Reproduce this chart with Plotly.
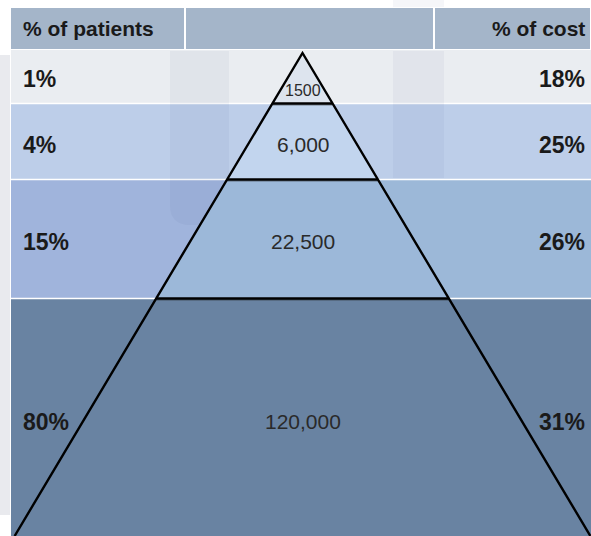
import plotly.graph_objects as go

# ---- data -------------------------------------------------------------
patients_pct = ["1%", "4%", "15%", "80%"]
cost_pct = ["18%", "25%", "26%", "31%"]
patient_counts = ["1500", "6,000", "22,500", "120,000"]
header_left = "% of patients"
header_right = "% of cost"

# ---- layout constants (pixel-like canvas units) -----------------------
W, H = 591, 536
LEFT = 11
HEADER_Y = (8, 49)
ROW_EDGES = [50, 103.5, 179.5, 298.5, 536]
HEADER_SPLITS = [185, 434]
APEX_X, APEX_Y = 302.5, 53
SLOPE = 0.596  # half-width growth per unit of height

row_left = ["#eaedf1", "#bdcee9", "#a0b4dc", "#6983a2"]
row_right = ["#eaedf1", "#bdcee9", "#9cb8d8", "#6983a2"]
tier_fill = ["#dde4ee", "#c2d5ee", "#9cb8d9", "#6983a2"]
header_color = "#a4b5c9"
FONT = "Liberation Sans, Arial, sans-serif"


def half_width(y):
    return max(0.0, (y - APEX_Y) * SLOPE)


fig = go.Figure()
shapes = []

# left grey strip
shapes.append(dict(type="rect", x0=0, x1=LEFT - 1, y0=55, y1=515,
                   fillcolor="#e9eaee", line_width=0, layer="below"))

# header cells
hx = [LEFT] + HEADER_SPLITS + [W]
for i in range(3):
    shapes.append(dict(type="rect", x0=hx[i] + (1 if i else 0), x1=hx[i + 1] - 1,
                       y0=HEADER_Y[0], y1=HEADER_Y[1],
                       fillcolor=header_color, line_width=0, layer="below"))

# row backgrounds
for i in range(4):
    y0 = ROW_EDGES[i] + (0.8 if i else 0)
    y1 = ROW_EDGES[i + 1] - (0.8 if i < 3 else 0)
    shapes.append(dict(type="rect", x0=LEFT, x1=APEX_X, y0=y0, y1=y1,
                       fillcolor=row_left[i], line_width=0, layer="below"))
    shapes.append(dict(type="rect", x0=APEX_X, x1=W, y0=y0, y1=y1,
                       fillcolor=row_right[i], line_width=0, layer="below"))

# faint background bands
shapes.append(dict(type="path",
                   path="M 170 51 L 229 51 L 229 225 L 190 225 Q 170 225 170 205 Z",
                   fillcolor="rgba(60,80,140,0.06)", line_width=0, layer="below"))
shapes.append(dict(type="rect", x0=393, x1=444, y0=51, y1=178,
                   fillcolor="rgba(60,80,140,0.05)", line_width=0, layer="below"))
shapes.append(dict(type="rect", x0=393, x1=444, y0=0, y1=7,
                   fillcolor="rgba(60,80,140,0.05)", line_width=0, layer="below"))

fig.update_layout(shapes=shapes)

# pyramid tiers
tops = [APEX_Y] + ROW_EDGES[1:4]
bottoms = ROW_EDGES[1:5]
for i in range(4):
    yt, yb = tops[i], bottoms[i]
    wt, wb = half_width(yt), half_width(yb)
    xs = [APEX_X - wt, APEX_X + wt, APEX_X + wb, APEX_X - wb, APEX_X - wt]
    ys = [yt, yt, yb, yb, yt]
    fig.add_trace(go.Scatter(x=xs, y=ys, mode="lines", fill="toself",
                             fillcolor=tier_fill[i], line=dict(width=0),
                             hoverinfo="skip", showlegend=False))

# pyramid sides
wb = half_width(H)
fig.add_trace(go.Scatter(x=[APEX_X - wb, APEX_X, APEX_X + wb], y=[H, APEX_Y, H],
                         mode="lines", line=dict(color="black", width=2.4),
                         hoverinfo="skip", showlegend=False))
# tier dividers
for y in ROW_EDGES[1:4]:
    w = half_width(y)
    fig.add_trace(go.Scatter(x=[APEX_X - w, APEX_X + w], y=[y + 1.2, y + 1.2],
                             mode="lines", line=dict(color="rgba(40,40,40,0.35)", width=2),
                             hoverinfo="skip", showlegend=False))
    fig.add_trace(go.Scatter(x=[APEX_X - w, APEX_X + w], y=[y, y],
                             mode="lines", line=dict(color="black", width=2.6),
                             hoverinfo="skip", showlegend=False))

# text
ann = []
hy = (HEADER_Y[0] + HEADER_Y[1]) / 2
ann.append(dict(x=21, y=hy, text=f"<b>{header_left}</b>", xanchor="left",
                font=dict(size=21, color="#1a1a1a", family=FONT)))
ann.append(dict(x=587, y=hy, text=f"<b>{header_right}</b>", xanchor="right",
                font=dict(size=21, color="#1a1a1a", family=FONT)))
label_shift = [2, 3, 2.5, 4.5]
for i in range(4):
    yc = (ROW_EDGES[i] + ROW_EDGES[i + 1]) / 2 + label_shift[i]
    ann.append(dict(x=21, y=yc, text=f"<b>{patients_pct[i]}</b>", xanchor="left",
                    font=dict(size=23, color="#1a1a1a", family=FONT)))
    ann.append(dict(x=587, y=yc, text=f"<b>{cost_pct[i]}</b>", xanchor="right",
                    font=dict(size=23, color="#1a1a1a", family=FONT)))
    if i == 0:
        ann.append(dict(x=APEX_X + 0.5, y=90.5, text=patient_counts[i], xanchor="center",
                        font=dict(size=16, color="#2a2a2a", family=FONT)))
    else:
        ann.append(dict(x=APEX_X + 0.5, y=yc, text=patient_counts[i], xanchor="center",
                        font=dict(size=21, color="#2a2a2a", family=FONT)))
for a in ann:
    a.update(xref="x", yref="y", yanchor="middle", showarrow=False)

fig.update_layout(
    annotations=ann,
    width=W, height=H,
    margin=dict(l=0, r=0, t=0, b=0),
    paper_bgcolor="white", plot_bgcolor="white",
    xaxis=dict(range=[0, W], visible=False, fixedrange=True),
    yaxis=dict(range=[H, 0], visible=False, fixedrange=True),
    showlegend=False,
)

fig.write_html("out.html")
